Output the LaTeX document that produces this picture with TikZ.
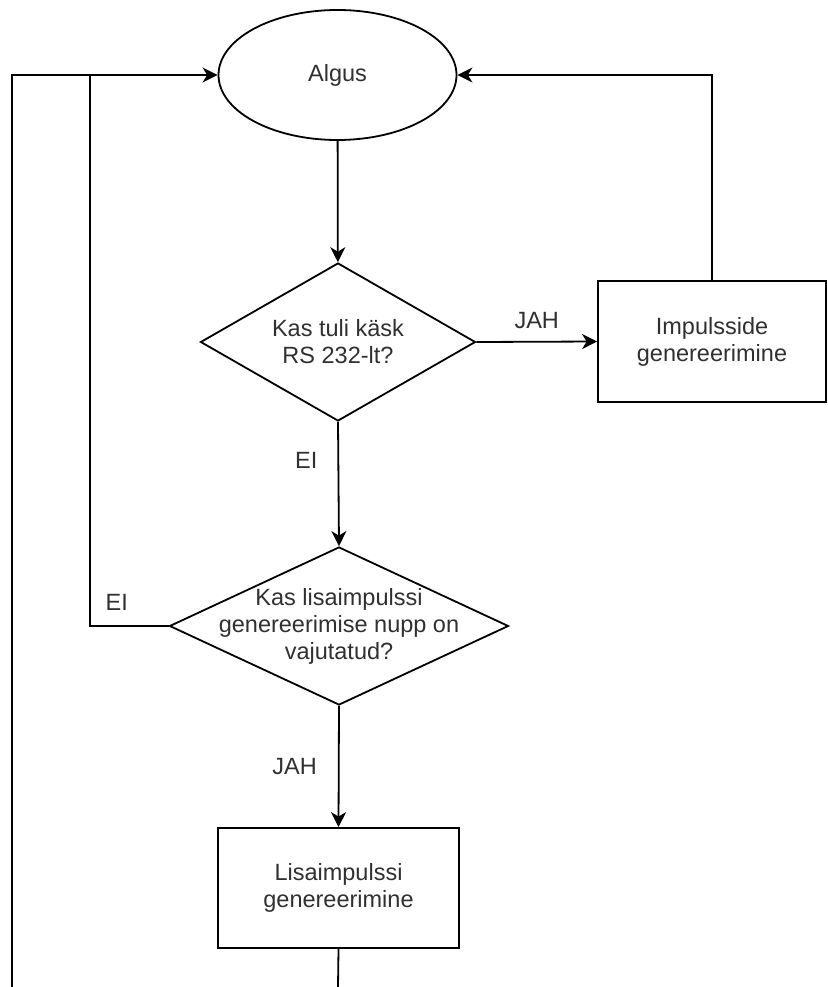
\documentclass[tikz,border=0pt]{standalone}
\usepackage{fontspec}
\setmainfont{Liberation Sans}
\usepackage{xcolor}
\usetikzlibrary{arrows.meta,positioning,shapes.geometric}
\definecolor{txtgray}{HTML}{303030}

\begin{document}
\begin{tikzpicture}[x=1pt,y=-1pt,font=\fontsize{23.5}{27}\selectfont,
  >={Stealth[length=15pt,width=15pt,inset=4.5pt]},
  every node/.style={text=txtgray},
  start/.style={ellipse,draw,line width=1.8pt,minimum width=238pt,minimum height=130pt},
  ask/.style={diamond,draw,line width=1.8pt,inner sep=0pt},
  qtext/.style={align=center,inner sep=0pt},
  proc/.style={rectangle,draw,line width=1.8pt,align=center},
  flow/.style={->,line width=1.8pt},
  lab/.style={inner sep=1pt}]
  \useasboundingbox (0,0) rectangle (827,987);
  % shapes
  \node[start] (algus) at (337.5,75) {Algus};
  \node[ask,minimum width=275pt,minimum height=158pt] (q1) at (338,342) {};
  \node[qtext] at (q1) {Kas tuli käsk\\RS 232-lt?};
  \node[proc,minimum width=228pt,minimum height=121pt] (imp) at (712,341.5) {Impulsside\\genereerimine};
  \node[ask,minimum width=339pt,minimum height=158pt] (q2) at (339,626) {};
  \node[qtext] at (q2) {Kas lisaimpulssi\\genereerimise nupp on\\vajutatud?};
  \node[proc,minimum width=241pt,minimum height=120pt] (lisa) at (338.5,888) {Lisaimpulssi\\genereerimine};
  \coordinate (jl) at (90,75);
  \coordinate (bl) at (12,987);
  \coordinate (out) at (338,987);
  % connectors
  \draw[flow] (algus) -- (q1);
  \draw[flow] (q1.east) -- node[lab,above=11pt] {JAH} (imp.west);
  \draw[flow] (imp.north) |- (algus.east);
  \draw[flow] (q1.south) -- node[lab,left=19pt,pos=0.31] {EI} (q2.north);
  \draw[flow] (q2.west) -| node[lab,above=14pt,pos=0.33] {EI} (jl) -- (algus.west);
  \draw[flow] (q2.south) -- node[lab,left=20pt] {JAH} (lisa.north);
  \draw[line width=1.8pt] (lisa.south) -- (out);
  \draw[line width=1.8pt] (bl) |- (jl);
\end{tikzpicture}
\end{document}
